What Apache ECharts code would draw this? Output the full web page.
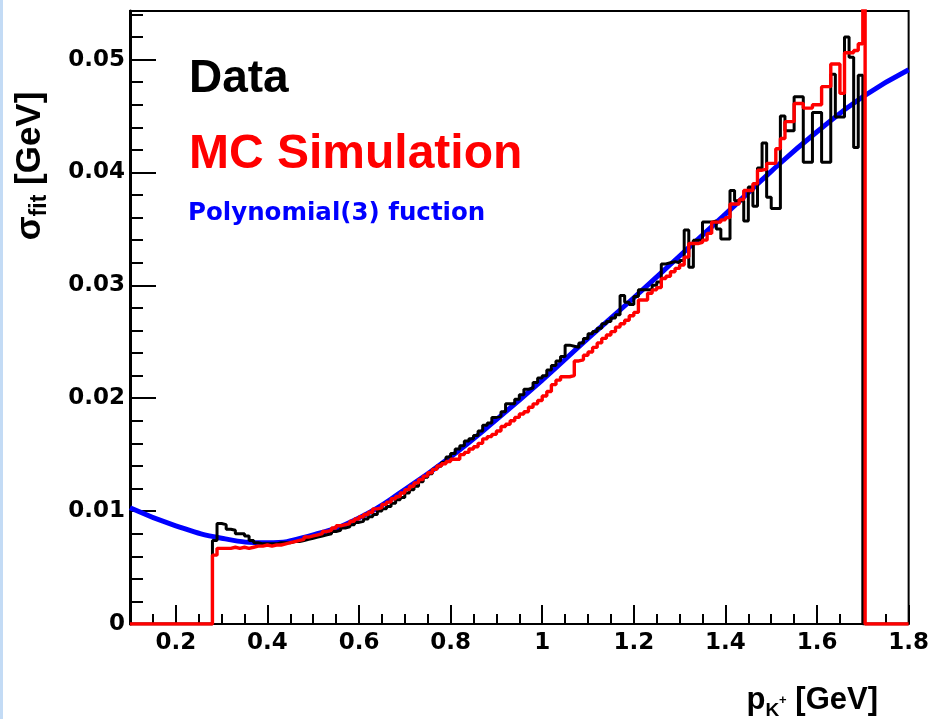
<!DOCTYPE html>
<html>
<head>
<meta charset="utf-8">
<script src="https://cdn.jsdelivr.net/npm/echarts@6/dist/echarts.min.js"></script>
<style>
html,body{margin:0;padding:0;background:#fff;}
#chart{width:932px;height:719px;}
</style>
</head>
<body>
<div id="chart"></div>
<script>
// ---- data ----
const xRange = [0.1, 1.8];
const yRange = [0, 0.0543];
const binStart = 0.28;
const binWidth = 0.01;

// Data histogram (bins of 0.01 starting at 0.28)
const dataValues = [
0.0074,0.0089,0.0088,0.0084,0.0083,0.0080,0.0080,0.0078,0.0074,0.0072,
0.0071,0.0071,0.0071,0.0071,0.0072,0.0072,0.0072,0.0073,0.0073,0.0074,
0.0075,0.0076,0.0077,0.0078,0.0079,0.0080,0.0082,0.0083,0.0085,0.0086,
0.0088,0.0090,0.0091,0.0093,0.0095,0.0097,0.0100,0.0102,0.0104,0.0107,
0.0110,0.0112,0.0116,0.0119,0.0122,0.0126,0.0130,0.0133,0.0137,0.0140,
0.0143,0.0148,0.0151,0.0155,0.0158,0.0162,0.0164,0.0167,0.0171,0.0176,
0.0178,0.0183,0.0184,0.0188,0.0195,0.0195,0.0199,0.0203,0.0208,0.0209,
0.0214,0.0218,0.0220,0.0225,0.0229,0.0233,0.0237,0.0247,0.0246,0.0245,
0.0249,0.0253,0.0257,0.0259,0.0262,0.0266,0.0268,0.0271,0.0274,0.0291,
0.0285,0.0283,0.0290,0.0296,0.0296,0.0296,0.0300,0.0303,0.0319,0.0320,
0.0321,0.0320,0.0322,0.0349,0.0316,0.0340,0.0340,0.0356,0.0356,0.0357,
0.0350,0.0341,0.0341,0.0384,0.0375,0.0375,0.0357,0.0387,0.0370,0.0404,
0.0426,0.0378,0.0368,0.0368,0.0450,0.0437,0.0437,0.0467,0.0467,0.0409,
0.0409,0.0453,0.0453,0.0409,0.0409,0.0487,0.0449,0.0449,0.0520,0.0502,
0.0422,0.0486
];

// MC simulation histogram (bins of 0.01 starting at 0.28)
const mcValues = [
0.0061,0.0067,0.0067,0.0067,0.0068,0.0067,0.0068,0.0067,0.0068,0.0069,
0.0069,0.0070,0.0069,0.0070,0.0070,0.0071,0.0072,0.0073,0.0074,0.0075,
0.0077,0.0078,0.0079,0.0080,0.0082,0.0083,0.0085,0.0087,0.0088,0.0089,
0.0091,0.0093,0.0095,0.0097,0.0099,0.0102,0.0103,0.0106,0.0108,0.0111,
0.0113,0.0116,0.0119,0.0122,0.0125,0.0128,0.0131,0.0134,0.0137,0.0140,
0.0142,0.0144,0.0146,0.0146,0.0150,0.0152,0.0155,0.0157,0.0160,0.0164,
0.0166,0.0168,0.0171,0.0175,0.0177,0.0180,0.0183,0.0186,0.0188,0.0192,
0.0195,0.0198,0.0202,0.0206,0.0212,0.0216,0.0219,0.0219,0.0220,0.0233,
0.0234,0.0238,0.0241,0.0245,0.0249,0.0253,0.0256,0.0259,0.0263,0.0266,
0.0269,0.0273,0.0276,0.0287,0.0287,0.0293,0.0296,0.0298,0.0306,0.0308,
0.0312,0.0315,0.0318,0.0325,0.0337,0.0337,0.0338,0.0340,0.0346,0.0356,
0.0356,0.0358,0.0360,0.0372,0.0372,0.0376,0.0384,0.0384,0.0390,0.0402,
0.0403,0.0408,0.0408,0.0421,0.0430,0.0445,0.0445,0.0461,0.0461,0.0457,
0.0457,0.0460,0.0460,0.0476,0.0476,0.0496,0.0496,0.0470,0.0506,0.0506,
0.0508,0.0514
];
// narrow off-scale MC spike right after the last bin: [start, end, value]
const mcSpike = [1.700, 1.705, 0.1200];

// Polynomial(3) fit curve, read every 0.1 GeV
const fitX = [0.1,0.2,0.3,0.4,0.5,0.6,0.7,0.8,0.9,1.0,1.1,1.2,1.3,1.4,1.5,1.6,1.7,1.8];
const fitY = [0.0103,0.0087,0.0076,0.0072,0.0079,0.0094,0.0119,0.0148,0.0181,0.0216,
              0.0253,0.0289,0.0326,0.0363,0.0401,0.0436,0.0467,0.0491];

const xTickLabels = [0.2,0.4,0.6,0.8,1.0,1.2,1.4,1.6,1.8];
const yTickLabels = [0,0.01,0.02,0.03,0.04,0.05];

// ---- build ----
function r4(v){ return +v.toFixed(4); }
function histPoints(values, spike){
  const pts = [[xRange[0], 0]];
  values.forEach((v, i) => pts.push([r4(binStart + i * binWidth), v]));
  if (spike) {
    pts.push([spike[0], spike[2]]);
    pts.push([spike[1], 0]);
  } else {
    pts.push([r4(binStart + values.length * binWidth), 0]);
  }
  pts.push([xRange[1], 0]);
  return pts;
}

const chart = echarts.init(document.getElementById('chart'), null, {renderer:'canvas'});

const labelFont = {fontFamily:'DejaVu Sans', fontWeight:'bold', fontSize:23, color:'#000'};

const option = {
  animation: false,
  backgroundColor: '#fff',
  grid: {left:130, right:23, top:11, bottom:95, show:true, borderColor:'#000', borderWidth:2, backgroundColor:'transparent'},
  xAxis: [
    {type:'value', min:xRange[0], max:xRange[1], position:'bottom',
     axisLine:{show:true, onZero:false, lineStyle:{color:'#000', width:2}},
     axisTick:{show:true, inside:true, length:19, customValues:xTickLabels, lineStyle:{color:'#000', width:2}},
     axisLabel:Object.assign({customValues:xTickLabels, margin:8}, labelFont),
     splitLine:{show:false}},
    {type:'value', min:xRange[0], max:xRange[1], interval:0.05, position:'bottom',
     axisLine:{show:false, onZero:false},
     axisTick:{show:true, inside:true, length:10, lineStyle:{color:'#000', width:2}},
     axisLabel:{show:false}, splitLine:{show:false}}
  ],
  yAxis: [
    {type:'value', min:yRange[0], max:yRange[1], position:'left',
     axisLine:{show:true, onZero:false, lineStyle:{color:'#000', width:3}},
     axisTick:{show:true, inside:true, length:26, customValues:yTickLabels, lineStyle:{color:'#000', width:2}},
     axisLabel:Object.assign({customValues:yTickLabels, margin:5}, labelFont),
     splitLine:{show:false}},
    {type:'value', min:yRange[0], max:yRange[1], interval:0.002, position:'left',
     axisLine:{show:false, onZero:false},
     axisTick:{show:true, inside:true, length:13, lineStyle:{color:'#000', width:2}},
     axisLabel:{show:false}, splitLine:{show:false}}
  ],
  series: [
    {name:'Polynomial(3) fuction', type:'line', z:2, showSymbol:false, smooth:true,
     data: fitX.map((x, i) => [x, fitY[i]]),
     lineStyle:{color:'#0000ff', width:5}},
    {name:'Data', type:'line', z:3, step:'end', showSymbol:false,
     data: histPoints(dataValues, null),
     lineStyle:{color:'#000000', width:3}},
    {name:'MC Simulation', type:'line', z:4, step:'end', showSymbol:false,
     data: histPoints(mcValues, mcSpike),
     lineStyle:{color:'#ff0000', width:3.4}}
  ],
  graphic: [
    {type:'rect', left:0, top:0, shape:{width:3, height:719}, style:{fill:'#c3dbf5'}, silent:true},
    {type:'text', x:189, y:79, style:{text:'Data', fill:'#000', font:'bold 46px "Liberation Sans", Arial, sans-serif', align:'left', verticalAlign:'middle'}},
    {type:'text', x:189, y:155, style:{text:'MC Simulation', fill:'#ff0000', font:'bold 48px "Liberation Sans", Arial, sans-serif', align:'left', verticalAlign:'middle'}},
    {type:'text', x:188, y:214, style:{text:'Polynomial(3) fuction', fill:'#0000ff', font:'bold 24.5px "DejaVu Sans", sans-serif', align:'left', verticalAlign:'middle'}},
    {type:'text', x:30, y:166, rotation:Math.PI/2,
     style:{text:'{m|σ}{s|fit}{m| [GeV]}', align:'center', verticalAlign:'middle', fill:'#000',
       rich:{
         m:{font:'bold 35px "Liberation Sans", Arial, sans-serif', fill:'#000', lineHeight:42, verticalAlign:'middle'},
         s:{font:'bold 23px "Liberation Sans", Arial, sans-serif', fill:'#000', lineHeight:42, verticalAlign:'bottom'}
       }}},
    {type:'text', x:878, y:700,
     style:{text:'{m|p}{s|K}{p|+}{m| [GeV]}', align:'right', verticalAlign:'middle', fill:'#000',
       rich:{
         m:{font:'bold 31px "Liberation Sans", Arial, sans-serif', fill:'#000', lineHeight:40, verticalAlign:'middle'},
         s:{font:'bold 19px "Liberation Sans", Arial, sans-serif', fill:'#000', lineHeight:40, verticalAlign:'bottom'},
         p:{font:'bold 13px "Liberation Sans", Arial, sans-serif', fill:'#000', lineHeight:40, verticalAlign:'middle'}
       }}}
  ]
};
chart.setOption(option);
</script>
</body>
</html>
